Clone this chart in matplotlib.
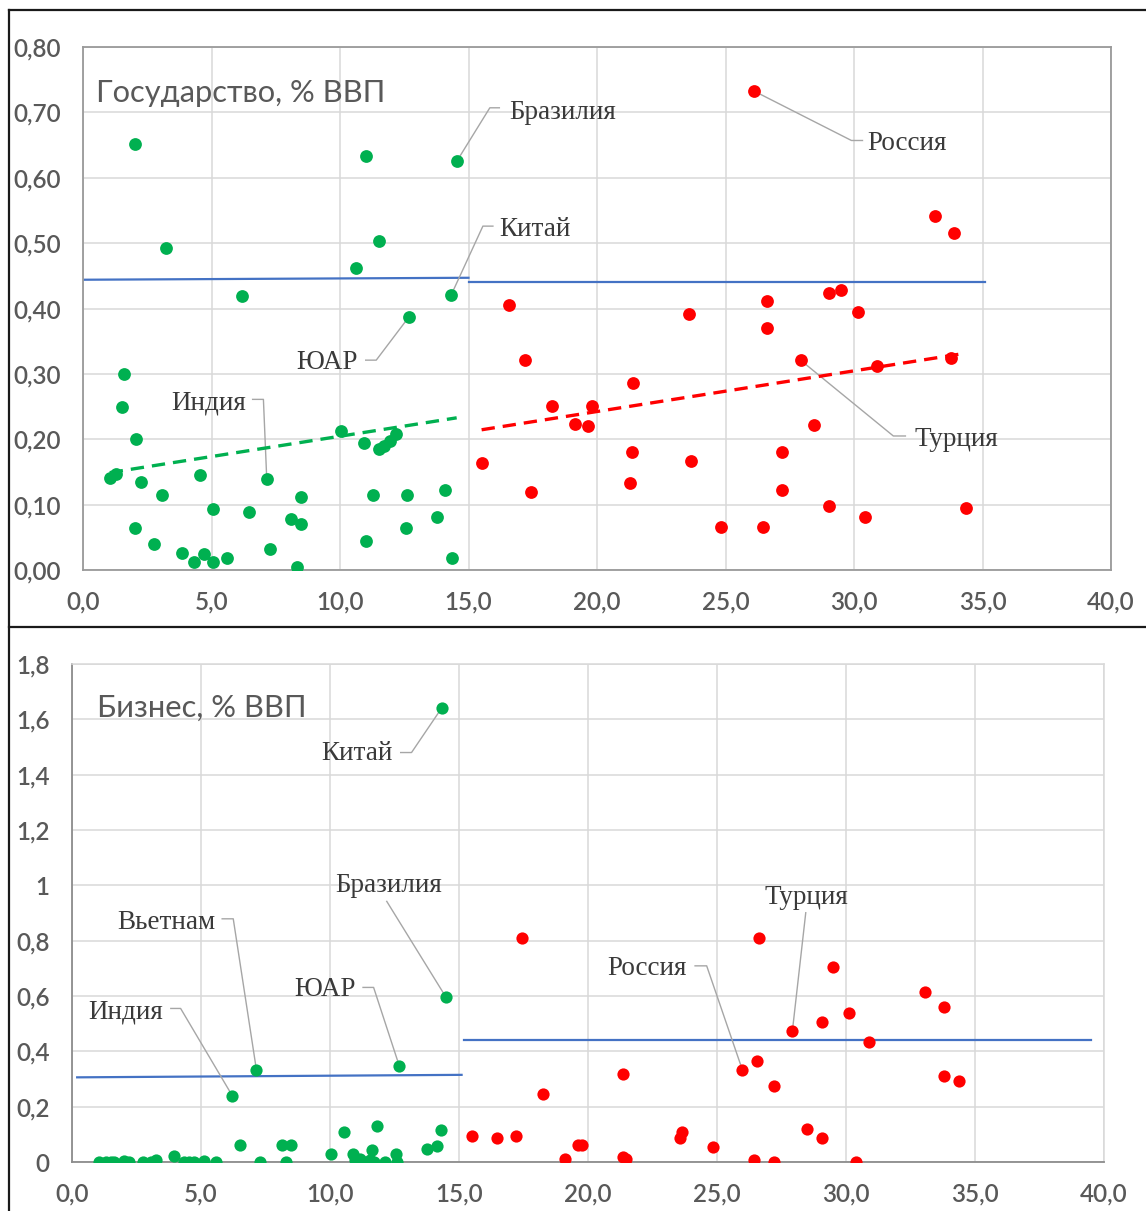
import numpy as np
import matplotlib
matplotlib.use('Agg')
import matplotlib.pyplot as plt
from matplotlib.lines import Line2D
from matplotlib.ticker import FuncFormatter, MultipleLocator

plt.rcParams['font.family'] = ['Lato', 'DejaVu Sans']

# --- top panel: Государство, % ВВП ---
gov_em_x = [1.04, 1.30, 1.51, 1.59, 2.04, 2.04, 2.05, 2.25, 2.77, 3.07, 3.22, 3.87,
            4.33, 4.56, 4.69, 5.06, 5.07, 5.60, 6.19, 6.47, 7.15, 7.28, 8.10, 8.32,
            8.49, 8.50, 10.05, 10.63, 10.92, 11.00, 11.00, 11.29, 11.51, 11.51, 11.70,
            11.95, 12.17, 12.55, 12.62, 12.68, 13.79, 14.10, 14.33, 14.37, 14.54]
gov_em_y = [0.140, 0.147, 0.250, 0.300, 0.651, 0.064, 0.201, 0.134, 0.040, 0.114, 0.492, 0.026,
            0.012, 0.145, 0.024, 0.093, 0.012, 0.018, 0.419, 0.088, 0.139, 0.032, 0.078, 0.004,
            0.070, 0.111, 0.213, 0.462, 0.195, 0.634, 0.044, 0.114, 0.503, 0.185, 0.190,
            0.197, 0.208, 0.064, 0.114, 0.387, 0.081, 0.122, 0.421, 0.018, 0.625]
gov_dev_x = [15.51, 16.56, 17.21, 17.44, 18.25, 19.13, 19.65, 19.79, 21.29, 21.36, 21.42, 23.58,
             23.65, 24.83, 26.09, 26.44, 26.60, 26.60, 27.19, 27.19, 27.92, 28.44, 29.03, 29.04,
             29.49, 30.14, 30.44, 30.88, 33.15, 33.78, 33.90, 34.35]
gov_dev_y = [0.163, 0.406, 0.321, 0.119, 0.251, 0.224, 0.221, 0.251, 0.133, 0.180, 0.286, 0.391,
             0.166, 0.066, 0.733, 0.066, 0.411, 0.370, 0.180, 0.122, 0.321, 0.222, 0.423, 0.098,
             0.429, 0.394, 0.081, 0.312, 0.542, 0.324, 0.516, 0.095]
gov_ref_em_x, gov_ref_em_y = [0.0, 15.0], [0.444, 0.447]
gov_ref_dev_x, gov_ref_dev_y = [15.0, 35.1], [0.441, 0.441]

# --- bottom panel: Бизнес, % ВВП ---
bus_em_x = [1.06, 1.30, 1.50, 1.64, 2.02, 2.22, 2.77, 3.05, 3.25, 3.96, 4.34, 4.54,
            4.73, 5.12, 5.57, 6.21, 6.51, 7.15, 7.28, 8.14, 8.29, 8.47, 10.04, 10.55,
            10.91, 10.97, 11.17, 11.30, 11.56, 11.62, 11.69, 11.84, 12.14, 12.57, 12.60, 12.69,
            13.77, 14.16, 14.29, 14.33, 14.48]
bus_em_y = [0, 0, 0, 0, 0.003, 0, 0, 0, 0.006, 0.020, 0, 0,
            0, 0.002, 0, 0.240, 0.060, 0.332, 0, 0.060, 0, 0.060, 0.030, 0.109,
            0.030, 0.006, 0.012, 0, 0.006, 0.042, 0, 0.130, 0, 0.030, 0, 0.346,
            0.048, 0.057, 0.115, 1.641, 0.598]
bus_dev_x = [15.50, 16.49, 17.19, 17.43, 18.27, 19.11, 19.63, 19.78, 21.34, 21.34, 21.46, 23.56,
             23.65, 24.84, 25.98, 26.42, 26.55, 26.62, 27.19, 27.19, 27.92, 28.47, 29.06, 29.06,
             29.48, 30.13, 30.40, 30.89, 33.08, 33.78, 33.78, 34.37]
bus_dev_y = [0.094, 0.086, 0.094, 0.811, 0.246, 0.012, 0.062, 0.062, 0.318, 0.018, 0.012, 0.086,
             0.108, 0.054, 0.334, 0.006, 0.365, 0.811, 0.273, 0.000, 0.472, 0.120, 0.506, 0.086,
             0.705, 0.538, 0.000, 0.432, 0.613, 0.559, 0.312, 0.293]
bus_ref_em_x, bus_ref_em_y = [0.2, 15.1], [0.306, 0.315]
bus_ref_dev_x, bus_ref_dev_y = [15.2, 39.5], [0.440, 0.440]

# labels: (text, text x, text y, alignment, leader path)
gov_labels = [
    ('Бразилия', 16.6, 0.700, 'left', [(14.54, 0.625), (15.83, 0.707), (16.2, 0.707)]),
    ('Китай', 16.2, 0.521, 'left', [(14.33, 0.421), (15.56, 0.526), (15.95, 0.526)]),
    ('Россия', 30.5, 0.652, 'left', [(26.09, 0.733), (29.9, 0.657), (30.33, 0.657)]),
    ('ЮАР', 10.68, 0.318, 'right', [(11.0, 0.321), (11.41, 0.321), (12.68, 0.387)]),
    ('Индия', 6.35, 0.255, 'right', [(6.6, 0.261), (7.02, 0.261), (7.15, 0.139)]),
    ('Турция', 32.36, 0.200, 'left', [(27.92, 0.321), (31.53, 0.205), (32.0, 0.205)]),
]
bus_labels = [
    ('Китай', 12.42, 1.475, 'right', [(12.74, 1.48), (13.16, 1.48), (14.33, 1.641)]),
    ('Бразилия', 10.22, 0.999, 'left', [(12.2, 0.942), (14.48, 0.598)]),
    ('Вьетнам', 5.57, 0.867, 'right', [(5.82, 0.879), (6.25, 0.879), (7.15, 0.332)]),
    ('Индия', 3.51, 0.543, 'right', [(3.83, 0.555), (4.21, 0.555), (6.21, 0.240)]),
    ('ЮАР', 10.98, 0.622, 'right', [(11.28, 0.631), (11.69, 0.631), (12.69, 0.346)]),
    ('Россия', 23.82, 0.699, 'right', [(24.15, 0.709), (24.6, 0.709), (25.98, 0.334)]),
    ('Турция', 26.84, 0.957, 'left', [(28.44, 0.901), (27.92, 0.472)]),
]

GREEN = '#00B050'
RED = '#FF0000'
BLUE = '#4472C4'

fig = plt.figure(figsize=(11.46, 12.11), dpi=100)
ax1 = fig.add_axes([83 / 1146, 1 - 570 / 1211, 1028 / 1146, 523 / 1211])
ax2 = fig.add_axes([72 / 1146, 1 - 1162 / 1211, 1032 / 1146, 498 / 1211])


def style(ax, ymax, ystep, yfmt):
    ax.set_xlim(0, 40)
    ax.set_ylim(0, ymax)
    ax.xaxis.set_major_locator(MultipleLocator(5))
    ax.yaxis.set_major_locator(MultipleLocator(ystep))
    ax.xaxis.set_major_formatter(FuncFormatter(lambda v, p: f'{v:.1f}'.replace('.', ',')))
    ax.yaxis.set_major_formatter(FuncFormatter(lambda v, p: yfmt(v).replace('.', ',')))
    ax.grid(True, color='#d9d9d9', lw=1.1)
    ax.set_axisbelow(True)
    ax.tick_params(length=0, labelsize=17.5, labelcolor='#595959')
    ax.tick_params(axis='y', pad=16)
    ax.tick_params(axis='x', pad=15)
    for lab in ax.get_xticklabels() + ax.get_yticklabels():
        lab.set_fontweight('semibold')


def draw(ax, ex, ey, dx, dy, rex, rey, rdx, rdy, ms, labels):
    ax.plot(rex, rey, color=BLUE, lw=1.6, zorder=2)
    ax.plot(rdx, rdy, color=BLUE, lw=1.6, zorder=2)
    for path in [l[4] for l in labels]:
        xs, ys = zip(*path)
        ax.plot(xs, ys, color='#a6a6a6', lw=1.0, zorder=2.5)
    ax.plot(ex, ey, 'o', color=GREEN, ms=ms, mew=0, zorder=3)
    ax.plot(dx, dy, 'o', color=RED, ms=ms, mew=0, zorder=3)
    for s, tx, ty, ha, path in labels:
        ax.text(tx, ty, s, ha=ha, va='center', family='Liberation Serif',
                fontsize=19.5, color='#3a3a3a', zorder=4)


style(ax1, 0.8, 0.1, lambda v: f'{v:.2f}')
draw(ax1, gov_em_x, gov_em_y, gov_dev_x, gov_dev_y, gov_ref_em_x, gov_ref_em_y,
     gov_ref_dev_x, gov_ref_dev_y, 9.2, gov_labels)
for xs, ys, c in [(gov_em_x, gov_em_y, GREEN), (gov_dev_x, gov_dev_y, RED)]:
    k = np.polyfit(xs, ys, 1)
    tx = np.array([min(xs), max(xs)])
    ax1.plot(tx, np.polyval(k, tx), color=c, lw=2.4, ls=(0, (4, 2.4)), zorder=2.8)
ax1.text(0.5, 0.729, 'Государство, % ВВП', fontsize=22.2, color='#595959', va='center')
for sp in ax1.spines.values():
    sp.set_color('#9a9a9a')
    sp.set_linewidth(1.3)

style(ax2, 1.8, 0.2, lambda v: f'{v:g}')
draw(ax2, bus_em_x, bus_em_y, bus_dev_x, bus_dev_y, bus_ref_em_x, bus_ref_em_y,
     bus_ref_dev_x, bus_ref_dev_y, 8.8, bus_labels)
ax2.text(0.97, 1.64, 'Бизнес, % ВВП', fontsize=22.2, color='#595959', va='center')
for name, sp in ax2.spines.items():
    if name in ('left', 'bottom'):
        sp.set_color('#8c8c8c')
        sp.set_linewidth(1.3)
    else:
        sp.set_color('#d9d9d9')
        sp.set_linewidth(1.1)

# black frame around the two pictures
fy_top = 1 - 10 / 1211
fy_mid = 1 - 627 / 1211
fx_left = 9 / 1146
for xs, ys in [([fx_left, 1], [fy_top, fy_top]), ([fx_left, fx_left], [0, fy_top]),
               ([fx_left, 1], [fy_mid, fy_mid])]:
    fig.add_artist(Line2D(xs, ys, color='#1a1a1a', lw=1.6, transform=fig.transFigure))

fig.savefig('out.png', dpi=100)
